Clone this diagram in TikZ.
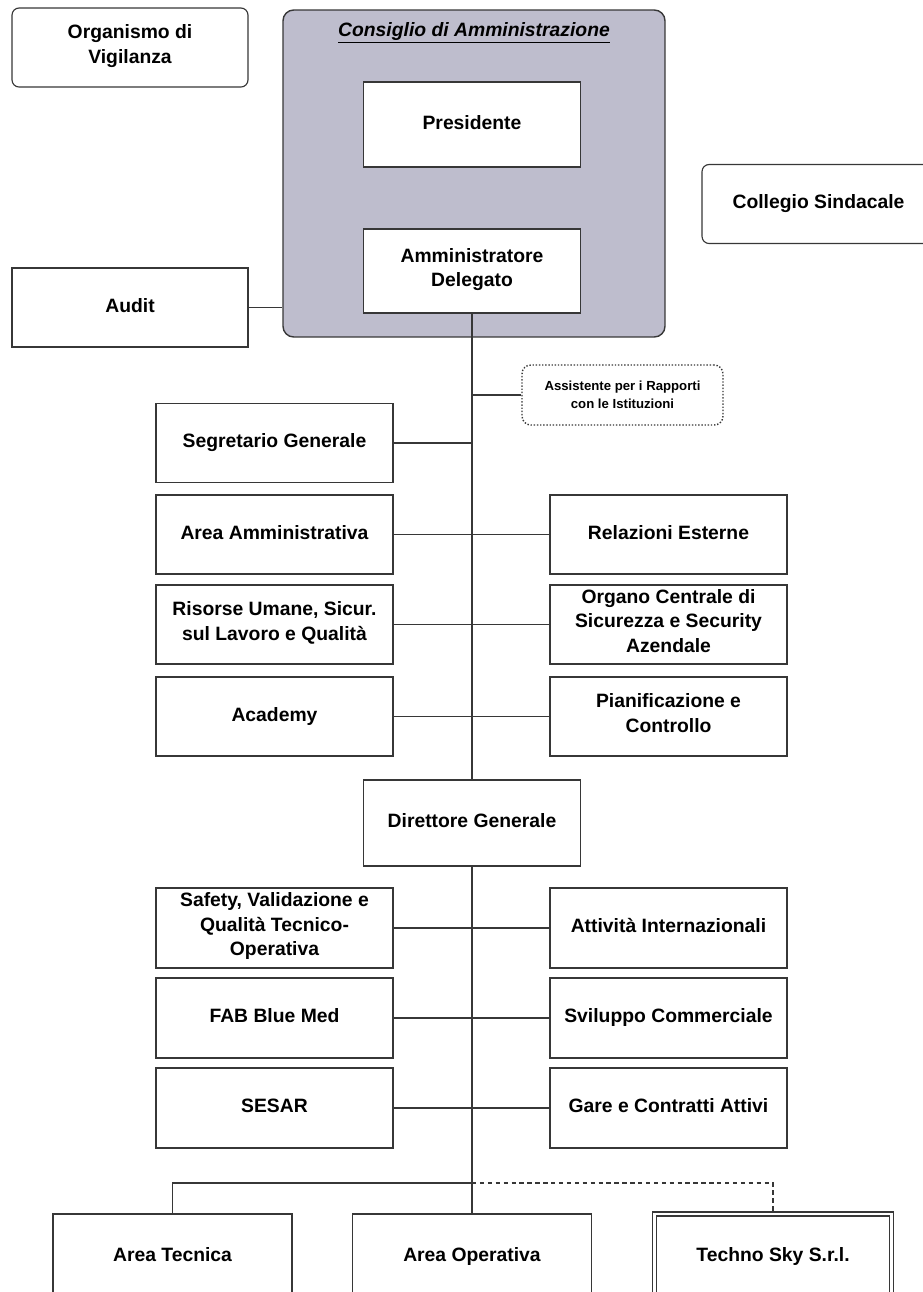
\documentclass[tikz,border=0pt]{standalone}
\usepackage{fontspec}
\setmainfont{Liberation Sans}
\usepackage{tikz}
\usetikzlibrary{positioning}
\definecolor{cdafill}{RGB}{190,189,205}
\definecolor{linegray}{RGB}{55,55,55}

\begin{document}
\begin{tikzpicture}[x=0.02cm, y=-0.02cm, font=\fontsize{11}{14}\selectfont\bfseries,
    box/.style={draw=linegray, line width=0.65pt, fill=white, align=center, inner sep=2pt,
                minimum width=4.74cm, minimum height=1.58cm,
                execute at begin node=\strut, execute at end node=\strut},
    roundbox/.style={box, rounded corners=4pt},
    conn/.style={draw=linegray, line width=0.65pt}]
    \useasboundingbox (0,0) rectangle (923,1292);

    % organi di controllo
    \node[roundbox, minimum width=4.72cm] (ov) at (130,47.5) {Organismo di\\Vigilanza};
    \node[roundbox, minimum width=4.66cm] (cs) at (818.5,204) {Collegio Sindacale};
    \node[box, minimum width=4.72cm] (audit) at (130,307.5) {Audit};

    % consiglio di amministrazione
    \node[draw=linegray, line width=0.8pt, fill=cdafill, rounded corners=6pt,
          minimum width=7.64cm, minimum height=6.54cm] (cda) at (474,173.5) {};
    \node (cdatitle) at (474,33) {\itshape\underline{Consiglio di Amministrazione}};
    \node[box, minimum width=4.34cm, minimum height=1.7cm] (pres) at (472,124.5) {Presidente};
    \node[box, minimum width=4.34cm, minimum height=1.68cm] (ad) at (472,271) {Amministratore\\Delegato};

    % assistente
    \node[draw=linegray, line width=0.8pt, densely dotted, rounded corners=5pt, align=center,
          minimum width=4.02cm, minimum height=1.2cm, font=\fontsize{7.5}{10}\selectfont\bfseries]
          (ass) at (622.5,395) {Assistente per i Rapporti\\con le Istituzioni};

    % staff dell'AD
    \node[box] (seg) at (274.5,443) {Segretario Generale};
    \node[box] (aam) at (274.5,534.5) {Area Amministrativa};
    \node[box] (rel) at (668.5,534.5) {Relazioni Esterne};
    \node[box] (ris) at (274.5,624.5) {Risorse Umane, Sicur.\\sul Lavoro e Qualità};
    \node[box] (org) at (668.5,624.5) {Organo Centrale di\\Sicurezza e Security\\Azendale};
    \node[box] (aca) at (274.5,716.5) {Academy};
    \node[box] (pia) at (668.5,716.5) {Pianificazione e\\Controllo};

    % direttore generale
    \node[box, minimum width=4.34cm, minimum height=1.72cm] (dg) at (472,823) {Direttore Generale};
    \node[box, minimum height=1.6cm] (saf) at (274.5,928) {Safety, Validazione e\\Qualità Tecnico-\\Operativa};
    \node[box, minimum height=1.6cm] (att) at (668.5,928) {Attività Internazionali};
    \node[box, minimum height=1.6cm] (fab) at (274.5,1018) {FAB Blue Med};
    \node[box, minimum height=1.6cm] (svi) at (668.5,1018) {Sviluppo Commerciale};
    \node[box, minimum height=1.6cm] (ses) at (274.5,1108) {SESAR};
    \node[box, minimum height=1.6cm] (gar) at (668.5,1108) {Gare e Contratti Attivi};

    % aree
    \node[box, minimum width=4.78cm, minimum height=1.72cm] (atec) at (172.5,1257) {Area Tecnica};
    \node[box, minimum width=4.78cm, minimum height=1.72cm] (aop) at (472,1257) {Area Operativa};
    \node[box, minimum width=4.74cm, minimum height=1.72cm, double=white, double distance=1.6pt]
          (tsky) at (773,1257) {Techno Sky S.r.l.};

    % collegamenti
    \draw[conn] (audit.east) -- (audit.east -| cda.west);
    \draw[conn] (ad.south) -- (dg.north);
    \draw[conn] (dg.south) -- (aop.north);
    \draw[conn] (ass.west) -- (ass.west -| ad.south);
    \draw[conn] (seg.east) -- (seg.east -| ad.south);
    \foreach \l/\r in {aam/rel, ris/org, aca/pia, saf/att, fab/svi, ses/gar}
        \draw[conn] (\l.east) -- (\r.west);
    \coordinate (split) at (472,1183);
    \draw[conn] (split) -| (atec.north);
    \draw[conn, dash pattern=on 2.5pt off 2pt] (split) -| (tsky.north);
\end{tikzpicture}
\end{document}
